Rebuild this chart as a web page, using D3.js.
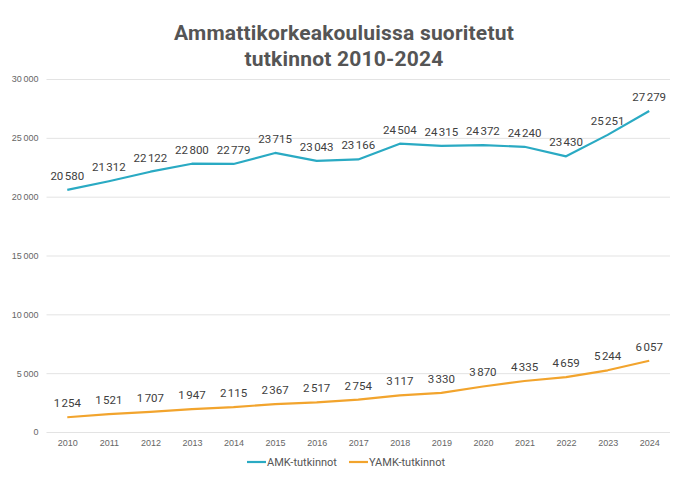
<!DOCTYPE html>
<html lang="fi">
<head>
<meta charset="UTF-8">
<script src="https://d3js.org/d3.v7.min.js"></script>
<title>Ammattikorkeakouluissa suoritetut tutkinnot</title>
<style>
    body { margin: 0; background: #fff; }
    svg { font-family: Roboto, "DejaVu Sans", sans-serif; }
    .grid line { stroke: #e3e3e3; stroke-width: 1px; }
    .axis text { fill: #666; font-size: 9px; }
    .lbl { fill: #404040; font-size: 11.5px; text-anchor: middle; }
    .title { fill: #555; font-size: 21px; font-weight: 700; text-anchor: middle; letter-spacing: 0.2px; }
    .legend text { fill: #555; font-size: 11px; }
</style>
</head>
<body>
<svg id="chart" width="680" height="479"></svg>
<script>
// data
var years = ["2010","2011","2012","2013","2014","2015","2016","2017","2018","2019","2020","2021","2022","2023","2024"];
var amk  = [20580, 21312, 22122, 22800, 22779, 23715, 23043, 23166, 24504, 24315, 24372, 24240, 23430, 25251, 27279];
var yamk = [1254, 1521, 1707, 1947, 2115, 2367, 2517, 2754, 3117, 3330, 3870, 4335, 4659, 5244, 6057];
var yTicks = [0, 5000, 10000, 15000, 20000, 25000, 30000];
var seriesNames = ["AMK-tutkinnot", "YAMK-tutkinnot"];
var colors = ["#2aaac3", "#f2a42d"];

var fi = d3.formatLocale({decimal: ",", thousands: "\u202f", grouping: [3], currency: ["", " €"]});
var fmt = fi.format(",d");

var svg = d3.select("#chart");
var mLeft = 46.5, mRight = 670, mTop = 79, mBottom = 432;

var x = d3.scalePoint().domain(years).range([mLeft, mRight]).padding(0.5);
var y = d3.scaleLinear().domain([0, 30000]).range([mBottom, mTop]);

// title
svg.append("text").attr("class", "title").attr("x", 344).attr("y", 40).text("Ammattikorkeakouluissa suoritetut");
svg.append("text").attr("class", "title").attr("x", 344).attr("y", 66).text("tutkinnot 2010-2024");

// gridlines
svg.append("g").attr("class", "grid")
    .selectAll("line").data(yTicks).join("line")
    .attr("x1", mLeft).attr("x2", mRight)
    .attr("y1", d => y(d) + 0.5).attr("y2", d => y(d) + 0.5);

// y axis
var yAxis = d3.axisLeft(y).tickValues(yTicks).tickSize(0).tickPadding(8).tickFormat(fmt);
svg.append("g").attr("class", "axis").attr("transform", "translate(" + mLeft + ",0)")
    .call(yAxis).call(g => g.select(".domain").remove());

// x axis
var xAxis = d3.axisBottom(x).tickSize(0).tickPadding(8);
svg.append("g").attr("class", "axis").attr("transform", "translate(0," + mBottom + ")")
    .call(xAxis).call(g => g.select(".domain").remove());

// lines + labels
var line = d3.line().x((d, i) => x(years[i])).y(d => y(d));
[amk, yamk].forEach(function(vals, k) {
    svg.append("path").datum(vals)
        .attr("fill", "none").attr("stroke", colors[k]).attr("stroke-width", 2.2)
        .attr("stroke-linejoin", "round")
        .attr("d", line);
    svg.append("g").selectAll("text").data(vals).join("text")
        .attr("class", "lbl")
        .attr("x", (d, i) => x(years[i]))
        .attr("y", d => y(d) - 10)
        .text(d => fmt(d));
});

// legend
var lg = svg.append("g").attr("class", "legend");
var lx = [247, 349];
seriesNames.forEach(function(n, k) {
    lg.append("line").attr("x1", lx[k]).attr("x2", lx[k] + 19)
        .attr("y1", 462).attr("y2", 462)
        .attr("stroke", colors[k]).attr("stroke-width", 2.2);
    lg.append("text").attr("x", lx[k] + 20).attr("y", 466).text(n);
});
</script>
</body>
</html>
